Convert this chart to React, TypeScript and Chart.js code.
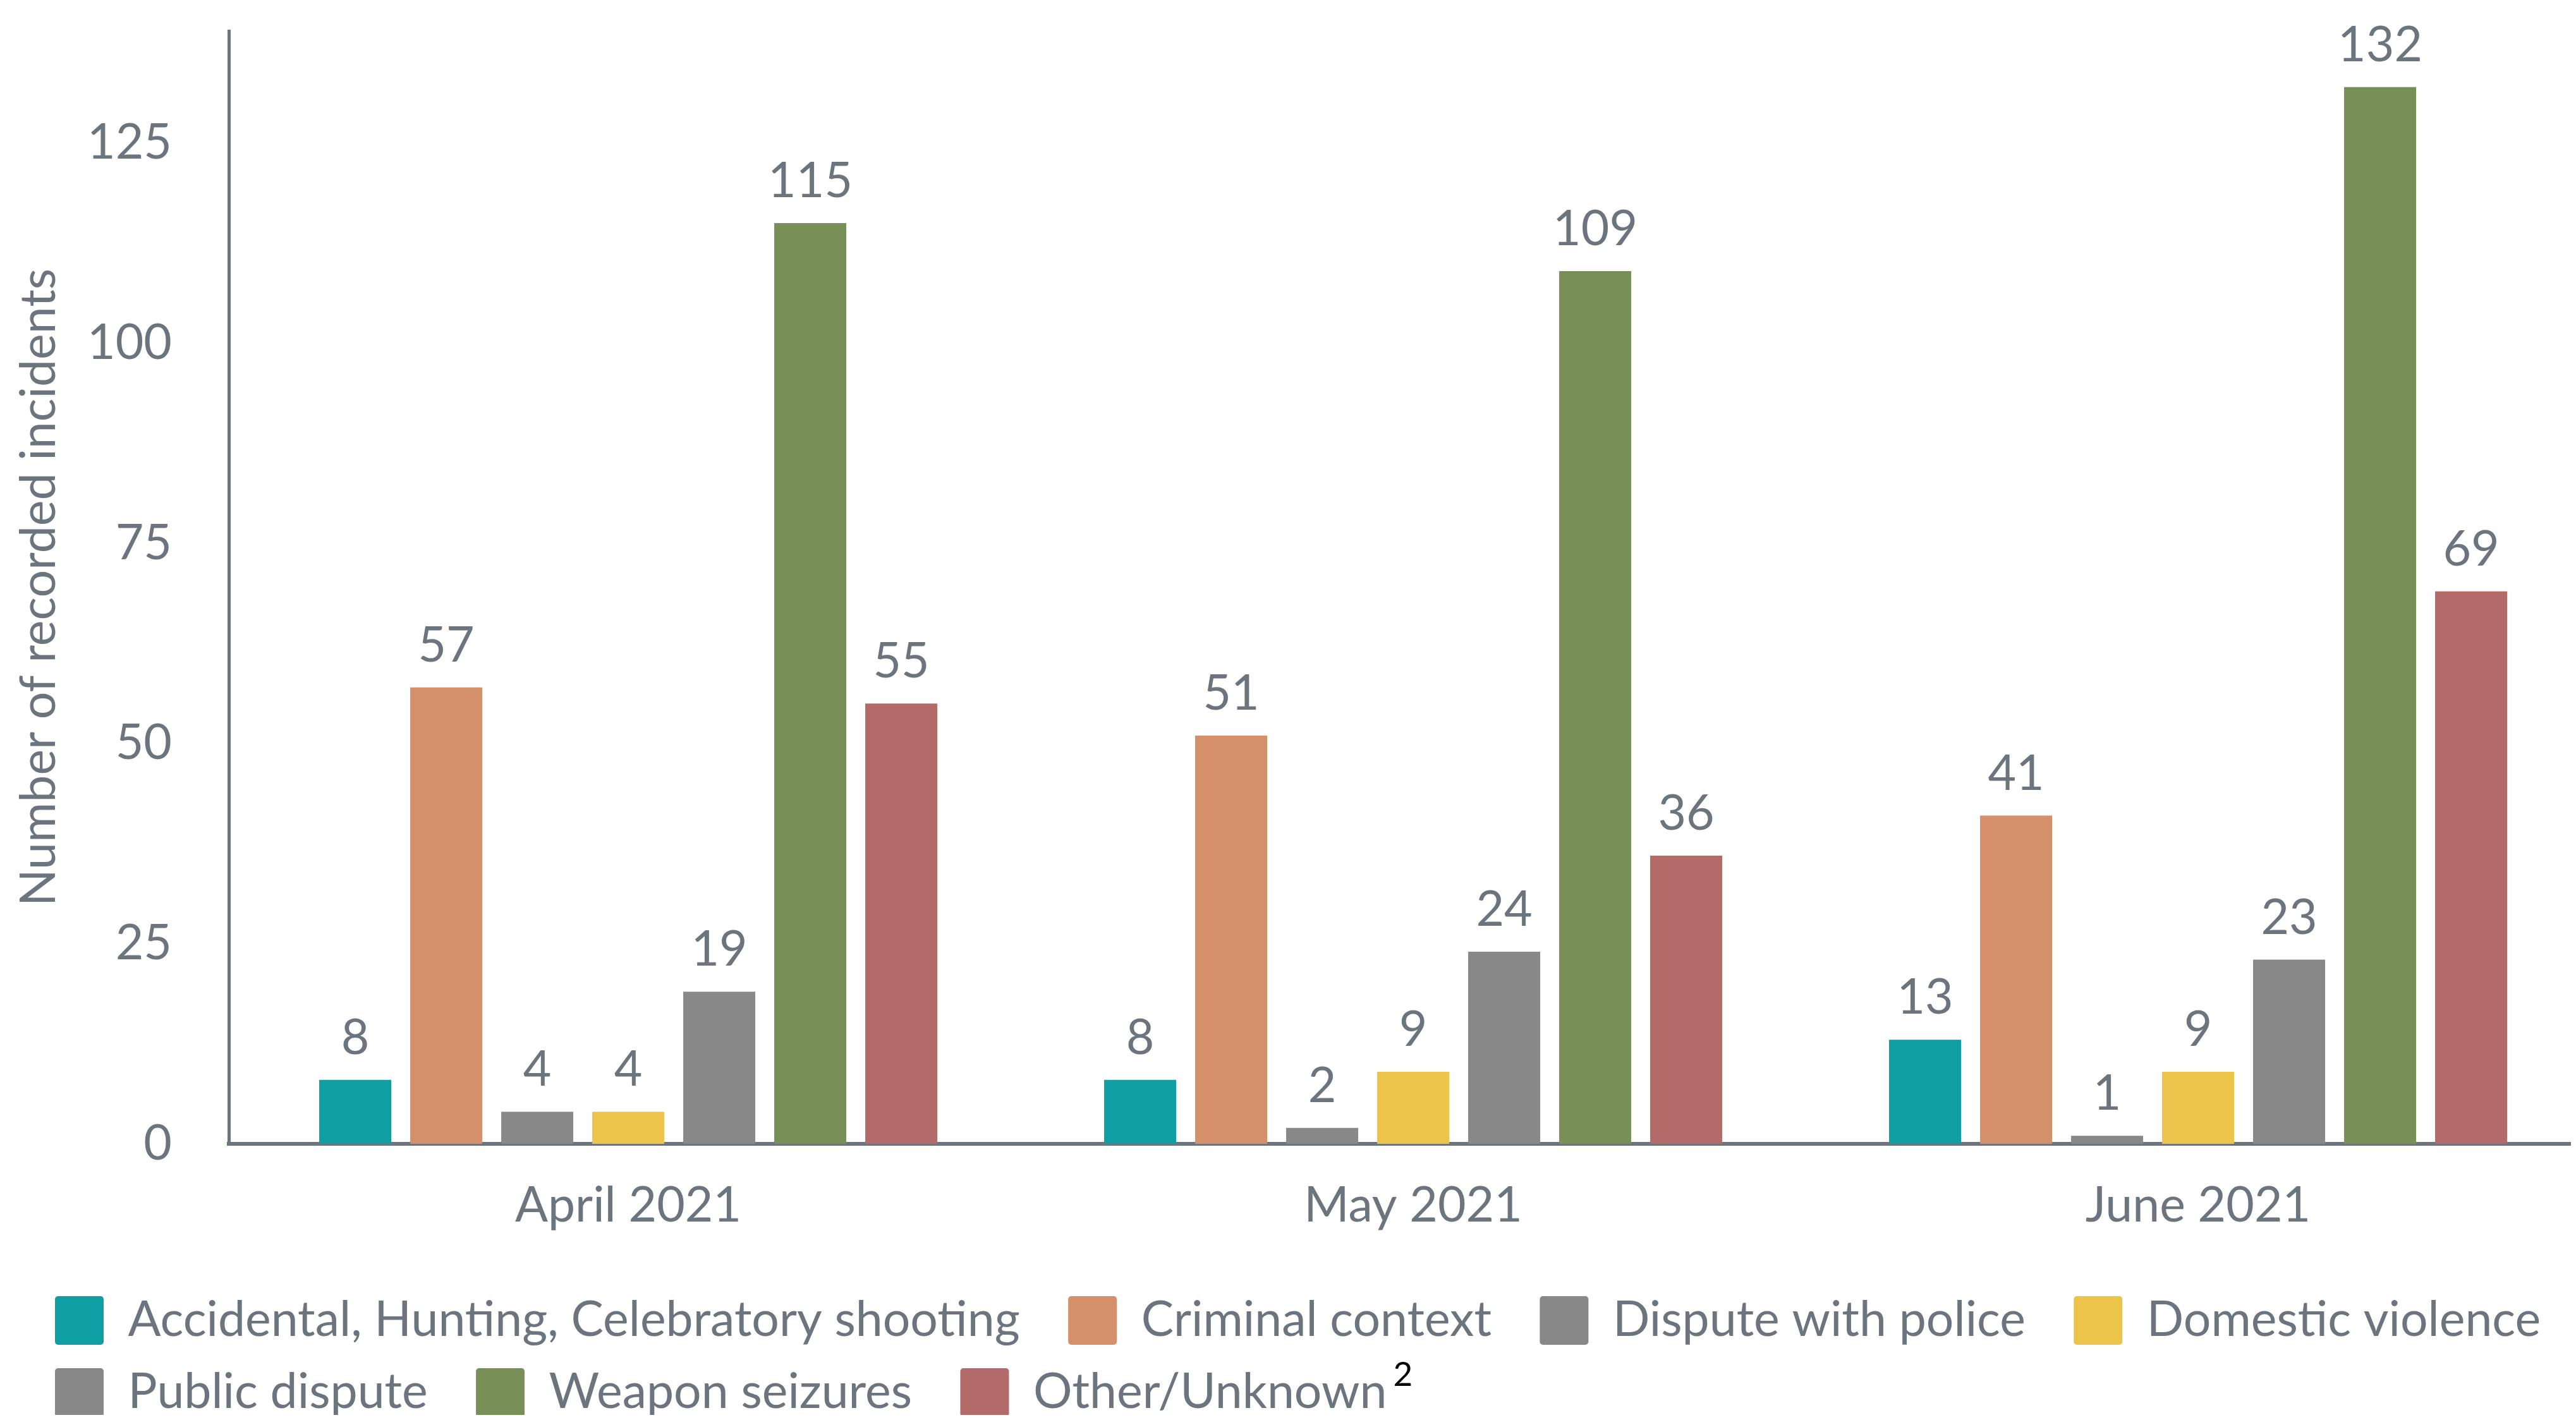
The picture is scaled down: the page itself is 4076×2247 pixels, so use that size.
import React, { useEffect, useRef } from "react";
import { Chart, registerables } from "chart.js";

Chart.register(...registerables);

const MONTHS = ["April 2021", "May 2021", "June 2021"];
const SERIES_NAMES = [
  "Accidental, Hunting, Celebratory shooting",
  "Criminal context",
  "Dispute with police",
  "Domestic violence",
  "Public dispute",
  "Weapon seizures",
  "Other/Unknown",
];
const ACCIDENTAL = [8, 8, 13];
const CRIMINAL = [57, 51, 41];
const DISPUTE_POLICE = [4, 2, 1];
const DOMESTIC = [4, 9, 9];
const PUBLIC_DISPUTE = [19, 24, 23];
const WEAPON = [115, 109, 132];
const OTHER = [55, 36, 69];
const SERIES_VALUES = [ACCIDENTAL, CRIMINAL, DISPUTE_POLICE, DOMESTIC, PUBLIC_DISPUTE, WEAPON, OTHER];
const COLORS = ["#0F9EA4", "#D4906B", "#888888", "#ECC44A", "#888888", "#788F58", "#B36B69"];
const Y_TICKS = [0, 25, 50, 75, 100, 125];

const TEXT = "#6C757D";
const FONT = "Lato";
const FS = 77;

const dataLabels = {
  id: "dataLabels",
  afterDatasetsDraw(chart: any) {
    const ctx = chart.ctx;
    ctx.save();
    ctx.font = `${FS}px ${FONT}`;
    ctx.fillStyle = TEXT;
    ctx.textAlign = "center";
    ctx.textBaseline = "alphabetic";
    chart.data.datasets.forEach((ds: any, di: number) => {
      const meta = chart.getDatasetMeta(di);
      meta.data.forEach((el: any, i: number) => {
        ctx.fillText(String(ds.data[i]), el.x, el.y - 41);
      });
    });
    ctx.restore();
  },
};

const footnote = {
  id: "footnote",
  afterDraw(chart: any) {
    const legend = chart.legend;
    if (!legend || !legend.legendHitBoxes) return;
    const hb = legend.legendHitBoxes[6];
    if (!hb) return;
    const ctx = chart.ctx;
    ctx.save();
    ctx.font = `53px ${FONT}`;
    ctx.fillStyle = "#000000";
    ctx.textAlign = "left";
    ctx.textBaseline = "alphabetic";
    ctx.fillText("2", hb.left + hb.width + 10, hb.top + hb.height / 2 - 11);
    ctx.restore();
  },
};

export default function App() {
  const ref = useRef<HTMLCanvasElement | null>(null);
  useEffect(() => {
    if (!ref.current) return;
    const chart = new Chart(ref.current, {
      type: "bar",
      data: {
        labels: MONTHS.map((_, i) => i),
        datasets: SERIES_NAMES.map((name, i) => ({
          label: name,
          data: SERIES_VALUES[i],
          backgroundColor: COLORS[i],
          borderWidth: 0,
          categoryPercentage: 0.8116,
          barPercentage: 0.7917,
        })),
      },
      options: {
        animation: false,
        responsive: true,
        maintainAspectRatio: false,
        layout: { padding: { top: 41, left: 42, right: -100, bottom: -13 } },
        plugins: {
          tooltip: { enabled: false },
          legend: {
            position: "bottom",
            align: "start",
            labels: {
              boxWidth: 77,
              boxHeight: 77,
              padding: 37,
              color: TEXT,
              font: { family: FONT, size: FS },
              useBorderRadius: true,
              borderRadius: 5,
              generateLabels: (chart: any) => {
                const items = Chart.defaults.plugins.legend.labels.generateLabels(chart);
                return items.map((it: any, i: number) => ({
                  ...it,
                  text: [0, 1, 2, 4, 5].includes(i) ? it.text + "  " : it.text,
                }));
              },
            },
          },
        },
        scales: {
          x: {
            type: "linear",
            min: -0.5089,
            max: 2.475,
            offset: false,
            grid: { display: false, drawTicks: true, tickLength: 52, offset: false },
            border: { display: true, color: TEXT, width: 6 },
            afterBuildTicks: (s: any) => {
              s.ticks = MONTHS.map((_, i) => ({ value: i }));
            },
            ticks: {
              autoSkip: false,
              maxRotation: 0,
              padding: 0,
              color: TEXT,
              font: { family: FONT, size: FS, lineHeight: 1.2 },
              callback: (v: any) => MONTHS[v] ?? "",
            },
            afterFit: (s: any) => {
              s.height = 204;
            },
          },
          y: {
            min: 0,
            max: 139,
            grid: { display: false, drawTicks: true, tickLength: 90 },
            border: { display: true, color: TEXT, width: 5 },
            afterBuildTicks: (s: any) => {
              s.ticks = Y_TICKS.map((v) => ({ value: v }));
            },
            ticks: {
              padding: 0,
              color: TEXT,
              font: { family: FONT, size: FS, lineHeight: 1 },
            },
            title: {
              display: true,
              text: "Number of recorded incidents",
              color: TEXT,
              font: { family: FONT, size: FS, lineHeight: 1.2 },
              padding: { top: -34, bottom: 0 },
            },
            afterFit: (s: any) => {
              s.width = 312;
            },
          },
        },
      },
      plugins: [dataLabels, footnote],
    } as any);
    return () => chart.destroy();
  }, []);
  return (
    <div style={{ width: "4060px", height: "2231px", position: "relative" }}>
      <canvas ref={ref} />
    </div>
  );
}
